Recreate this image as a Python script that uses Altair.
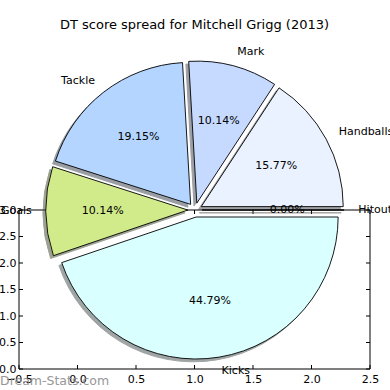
import math
import altair as alt
import pandas as pd

# ---- data ----
labels = ["Handballs", "Mark", "Tackle", "Goals", "Kicks", "Hitout"]
pcts = [15.77, 10.14, 19.15, 10.14, 44.79, 0.00]
colors = ["#EAF1FF", "#C6D9FF", "#B3D5FF", "#D1EB8A", "#D9FFFF", "#FFE4C4"]
x_ticks = [-0.5, 0.0, 0.5, 1.0, 1.5, 2.0, 2.5]
y_ticks = [0.0, 0.5, 1.0, 1.5, 2.0, 2.5, 3.0]
title_text = ["DT score spread for Mitchell Grigg (2013)"]
watermark = ["Dream-Stats.com"]

# pie options (as in matplotlib: explode, labeldistance, pctdistance)
explode = 0.05
labeldistance = 1.1
pctdistance = 0.6

W, H = 351, 159
R = 142          # pie radius in px
CX, CY = 176, 0  # pie centre inside plot area (px)
FONT = "DejaVu Sans"


def shade(hexcol, f=0.3):
    r, g, b = (int(hexcol[i:i + 2], 16) for i in (1, 3, 5))
    return "#%02x%02x%02x" % (int(r * f), int(g * f), int(b * f))


total = sum(pcts)
rows = []
acc = 0.0
for lab, p, c in zip(labels, pcts, colors):
    s = acc / total
    e = (acc + p) / total
    acc += p
    mid = (s + e) / 2 * 2 * math.pi
    ex, ey = explode * math.cos(mid), explode * math.sin(mid)
    lx, ly = ex + labeldistance * math.cos(mid), ey + labeldistance * math.sin(mid)
    px, py = ex + pctdistance * math.cos(mid), ey + pctdistance * math.sin(mid)
    rows.append(dict(label=lab, pct=p, color=c, shadow=shade(c), start=s, end=e,
                     cx=ex, cy=ey, lx=lx, ly=ly, px=px, py=py,
                     side="left" if lx > 0 else "right",
                     ptext="%.2f%%" % (100 * p / total)))
df = pd.DataFrame(rows)

xs_pie = alt.Scale(domain=[-1, 1], range=[CX - R, CX + R])
ys_pie = alt.Scale(domain=[-1, 1], range=[CY + R, CY - R])
th_scale = alt.Scale(domain=[0, 1], range=[math.pi / 2, math.pi / 2 - 2 * math.pi])

xs_ax = alt.Scale(domain=[-0.5, 2.5], nice=False, zero=False)
ys_ax = alt.Scale(domain=[0, 3], nice=False, zero=False)

xt = pd.DataFrame({"v": x_ticks})
yt = pd.DataFrame({"v": y_ticks})

frame = alt.Chart(pd.DataFrame({"a": [0]})).mark_rect(
    fillOpacity=0, stroke="black", strokeWidth=1
).encode(x=alt.value(0), x2=alt.value(W), y=alt.value(0), y2=alt.value(H))

xaxis = alt.Axis(values=x_ticks, format=".1f", ticks=False, domain=False, grid=False,
                 labelFont=FONT, labelFontSize=11, labelColor="black", labelPadding=4,
                 labelFlush=False, labelOverlap=False, title=None)
yaxis = alt.Axis(values=y_ticks, format=".1f", ticks=False, domain=False, grid=False,
                 labelFont=FONT, labelFontSize=11, labelColor="black", labelPadding=3,
                 labelFlush=False, labelOverlap=False, title=None)

xt_bottom = alt.Chart(xt).mark_rule(color="black", strokeWidth=1).encode(
    x=alt.X("v:Q", scale=xs_ax, axis=xaxis), y=alt.value(H), y2=alt.value(H - 4))
xt_top = alt.Chart(xt).mark_rule(color="black", strokeWidth=1).encode(
    x=alt.X("v:Q", scale=xs_ax, axis=None), y=alt.value(0), y2=alt.value(4))
yt_left = alt.Chart(yt).mark_rule(color="black", strokeWidth=1).encode(
    y=alt.Y("v:Q", scale=ys_ax, axis=yaxis), x=alt.value(0), x2=alt.value(4))
yt_right = alt.Chart(yt).mark_rule(color="black", strokeWidth=1).encode(
    y=alt.Y("v:Q", scale=ys_ax, axis=None), x=alt.value(W), x2=alt.value(W - 4))

base = alt.Chart(df)
shadows = base.mark_arc(radius=R, opacity=0.5, xOffset=-2.8, yOffset=2.8, strokeWidth=1).encode(
    x=alt.X("cx:Q", scale=xs_pie, axis=None),
    y=alt.Y("cy:Q", scale=ys_pie, axis=None),
    theta=alt.Theta("start:Q", scale=th_scale),
    theta2="end:Q",
    fill=alt.Fill("shadow:N", scale=None),
    stroke=alt.Stroke("shadow:N", scale=None),
)
wedges = base.mark_arc(radius=R, stroke="black", strokeWidth=0.9).encode(
    x=alt.X("cx:Q", scale=xs_pie, axis=None),
    y=alt.Y("cy:Q", scale=ys_pie, axis=None),
    theta=alt.Theta("start:Q", scale=th_scale),
    theta2="end:Q",
    fill=alt.Fill("color:N", scale=None),
)
lab_left = base.transform_filter(alt.datum.side == "left").mark_text(
    align="left", baseline="middle", font=FONT, fontSize=11, color="black"
).encode(x=alt.X("lx:Q", scale=xs_pie, axis=None), y=alt.Y("ly:Q", scale=ys_pie, axis=None),
         text="label:N")
lab_right = base.transform_filter(alt.datum.side == "right").mark_text(
    align="right", baseline="middle", font=FONT, fontSize=11, color="black"
).encode(x=alt.X("lx:Q", scale=xs_pie, axis=None), y=alt.Y("ly:Q", scale=ys_pie, axis=None),
         text="label:N")
pct_text = base.mark_text(
    align="center", baseline="middle", font=FONT, fontSize=11, color="black"
).encode(x=alt.X("px:Q", scale=xs_pie, axis=None), y=alt.Y("py:Q", scale=ys_pie, axis=None),
         text="ptext:N")

wm = alt.Chart(pd.DataFrame({"t": watermark})).mark_text(
    align="left", baseline="alphabetic", font=FONT, fontSize=12.5, fontWeight="normal",
    color="#8c8c8c", opacity=0.9
).encode(x=alt.value(-19), y=alt.value(H + 16), text="t:N")

title = alt.Chart(pd.DataFrame({"t": title_text})).mark_text(
    align="center", baseline="alphabetic", font=FONT, fontSize=13, color="black"
).encode(x=alt.value(W / 2), y=alt.value(-181), text="t:N")

chart = alt.layer(
    frame, xt_bottom, xt_top, yt_left, yt_right,
    shadows, wedges, lab_left, lab_right, pct_text, wm, title
).resolve_scale(x="independent", y="independent").properties(
    width=W, height=H,
    padding={"left": 19, "top": 210, "right": 20, "bottom": 21},
    autosize=alt.AutoSizeParams(type="none"),
    background="white",
).configure_view(stroke=None)

chart.save("out.html", embed_options={"renderer": "svg", "actions": False})
